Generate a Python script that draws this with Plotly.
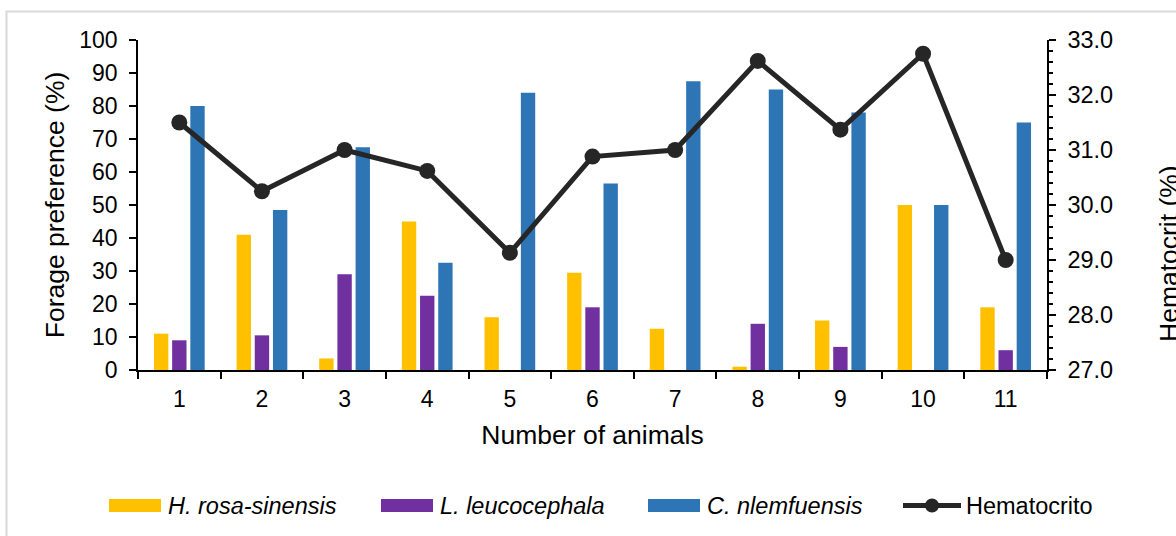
import plotly.graph_objects as go

# ---------------- data ----------------
animals = ["1", "2", "3", "4", "5", "6", "7", "8", "9", "10", "11"]
h_rosa = [11, 41, 3.5, 45, 16, 29.5, 12.5, 1, 15, 50, 19]
l_leuco = [9, 10.5, 29, 22.5, 0, 19, 0, 14, 7, 0, 6]
c_nlem = [80, 48.5, 67.5, 32.5, 84, 56.5, 87.5, 85, 78, 50, 75]
hematocrit = [31.5, 30.25, 31.0, 30.62, 29.13, 30.88, 31.0, 32.62, 31.37, 32.75, 29.0]

series_names = ["H. rosa-sinensis", "L. leucocephala", "C. nlemfuensis"]
line_name = "Hematocrito"
colors = ["#FFC000", "#7030A0", "#2E75B6"]
line_color = "#262626"

FONT = "Liberation Sans, Arial, sans-serif"

# plot area in pixels
W, H = 1176, 536
L, R, T, B = 138, 1047, 40, 370


def px(x):
    return (x - L) / (R - L)


def py(y):
    return (B - y) / (B - T)


fig = go.Figure()
for name, vals, col in zip(series_names, [h_rosa, l_leuco, c_nlem], colors):
    fig.add_trace(go.Bar(x=animals, y=vals, name=name, marker_color=col,
                         marker_line_width=0, showlegend=False, yaxis="y"))

fig.add_trace(go.Scatter(x=animals, y=hematocrit, name=line_name, yaxis="y2",
                         mode="lines+markers",
                         line=dict(color=line_color, width=5),
                         marker=dict(color=line_color, size=16),
                         showlegend=False, cliponaxis=False))

shapes = []
annotations = []

# outer frame
shapes.append(dict(type="rect", xref="paper", yref="paper",
                   x0=px(6.5), x1=px(1185), y0=py(11.5), y1=py(545),
                   line=dict(color="#D9D9D9", width=2), fillcolor="rgba(0,0,0,0)",
                   layer="below"))

# custom legend
leg_y = 505.5
swatch_x = [(109, 161), (381, 433), (648, 700)]
for (x0, x1), name, col in zip(swatch_x, series_names, colors):
    shapes.append(dict(type="rect", xref="paper", yref="paper",
                       x0=px(x0), x1=px(x1), y0=py(leg_y - 6.5), y1=py(leg_y + 6.5),
                       fillcolor=col, line=dict(width=0)))
    annotations.append(dict(xref="paper", yref="paper", x=px(x1 + 5), y=py(leg_y),
                            xanchor="left", yanchor="middle", showarrow=False,
                            text="<i>" + name + "</i>",
                            font=dict(family=FONT, size=23.5, color="#000000")))
shapes.append(dict(type="line", xref="paper", yref="paper",
                   x0=px(903), x1=px(961), y0=py(leg_y), y1=py(leg_y),
                   line=dict(color=line_color, width=5)))
shapes.append(dict(type="circle", xref="paper", yref="paper",
                   x0=px(932 - 7), x1=px(932 + 7), y0=py(leg_y - 7), y1=py(leg_y + 7),
                   fillcolor=line_color, line=dict(width=0)))
annotations.append(dict(xref="paper", yref="paper", x=px(964), y=py(leg_y),
                        xanchor="left", yanchor="middle", showarrow=False,
                        text=line_name,
                        font=dict(family=FONT, size=23.5, color="#000000")))

# right axis title (partially clipped by the page edge, as in the reference)
annotations.append(dict(xref="paper", yref="paper", x=px(1169), y=py(254),
                        xanchor="center", yanchor="middle", showarrow=False,
                        textangle=-90, text="Hematocrit (%)",
                        font=dict(family=FONT, size=26.5, color="#000000")))

fig.update_layout(
    width=W, height=H,
    margin=dict(l=L, r=W - R, t=T, b=H - B, pad=0),
    paper_bgcolor="white", plot_bgcolor="white",
    font=dict(family=FONT, size=23, color="#000000"),
    barmode="group", bargap=0.34, bargroupgap=0.21,
    showlegend=False,
    xaxis=dict(type="category", range=[-0.5, len(animals) - 0.5],
               showgrid=False, showline=True, linecolor="#000000",
               linewidth=1.5, ticks="outside", tickson="boundaries", ticklen=7,
               tickwidth=1.5, tickcolor="#000000", ticklabelstandoff=8,
               tickfont=dict(family=FONT, size=23),
               title=dict(text="Number of animals", standoff=14,
                          font=dict(family=FONT, size=26.5))),
    yaxis=dict(range=[0, 100], dtick=10, showgrid=False, zeroline=False,
               showline=True, linecolor="#000000", linewidth=1.5,
               ticks="outside", ticklen=7, tickwidth=1.5, tickcolor="#000000",
               ticklabelstandoff=7,
               tickfont=dict(family=FONT, size=23),
               title=dict(text="Forage preference (%)", standoff=7,
                          font=dict(family=FONT, size=26.5))),
    yaxis2=dict(range=[27, 33], dtick=1, tickformat=".1f", overlaying="y",
                side="right", showgrid=False, zeroline=False,
                showline=True, linecolor="#000000", linewidth=1.5,
                ticks="outside", ticklen=7, tickwidth=1.5, tickcolor="#000000",
                ticklabelstandoff=7,
                tickfont=dict(family=FONT, size=23.5),
                minor=dict(dtick=0.2, ticks="outside", ticklen=4,
                           tickwidth=1.5, tickcolor="#000000", showgrid=False)),
    shapes=shapes,
    annotations=annotations,
)

fig.write_html("out.html")
